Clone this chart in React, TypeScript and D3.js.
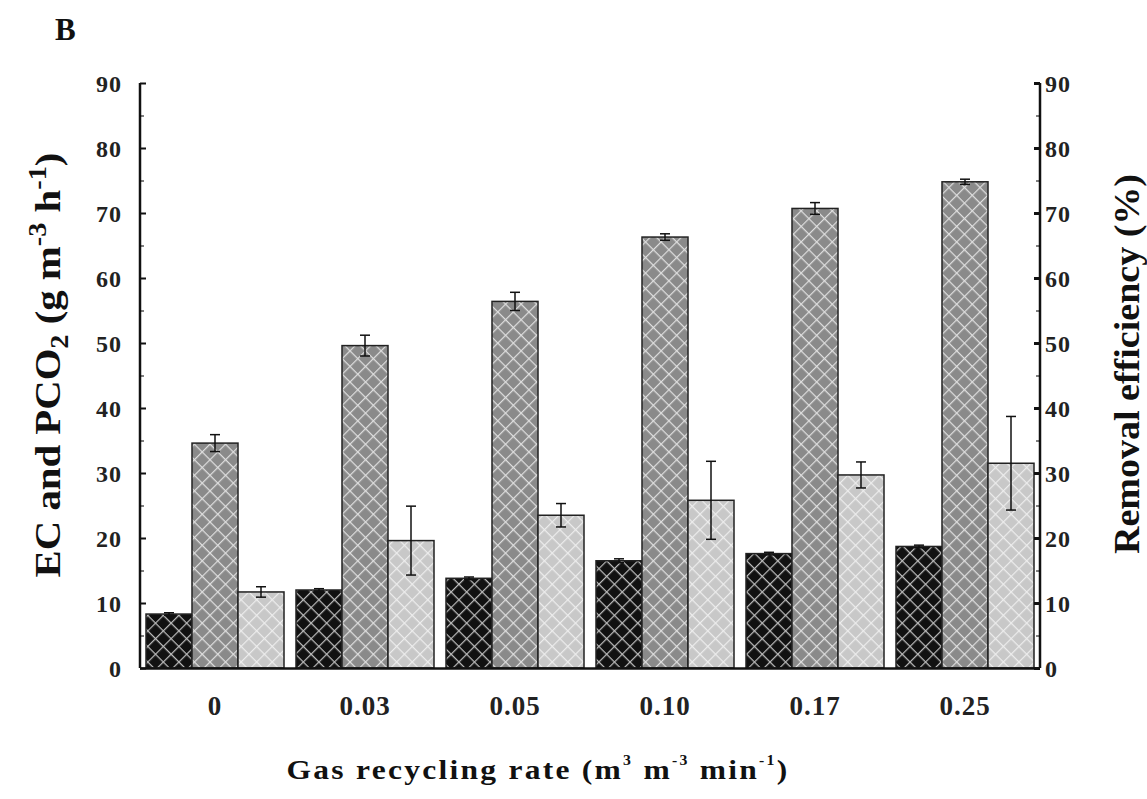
import * as d3 from "d3";
import { useEffect, useRef } from "react";

// gas recycling rates (x categories)
const categories = ["0", "0.03", "0.05", "0.10", "0.17", "0.25"];
// elimination capacity, g m-3 h-1
const ecValues = [8.3, 12.0, 13.8, 16.5, 17.6, 18.7];
const ecErrors = [0.2, 0.2, 0.2, 0.3, 0.2, 0.2];
// CO2 production, g m-3 h-1
const pco2Values = [34.6, 49.6, 56.4, 66.3, 70.7, 74.8];
const pco2Errors = [1.3, 1.6, 1.4, 0.5, 0.9, 0.4];
// removal efficiency, %
const reValues = [11.7, 19.6, 23.5, 25.8, 29.7, 31.5];
const reErrors = [0.8, 5.3, 1.8, 6.0, 2.0, 7.2];

const majorTicks = [0, 10, 20, 30, 40, 50, 60, 70, 80, 90];
const minorTicks = [5, 15, 25, 35, 45, 55, 65, 75, 85];

const W = 1147;
const H = 799;
const FONT = "'Liberation Serif', 'Times New Roman', serif";

// stretch a text group along its own direction so it spans `len` px
const fitText = (g: any, tx: number, ty: number, rot: number, len: number) => {
  const w = g.node().getBBox().width;
  g.attr("transform", `translate(${tx},${ty}) rotate(${rot}) scale(${len / w},1)`);
};

const App = () => {
  const svgRef = useRef<SVGSVGElement>(null);

  useEffect(() => {
    const svg = d3.select(svgRef.current);
    svg.selectAll("*").remove();

    const left = 140;
    const right = 1040;
    const top = 83;
    const bottom = 668;

    // hatch patterns: light crosshatch over a fill
    const defs = svg.append("defs");
    const patterns = [
      { id: "hatchDark", bg: "#111", line: "#d0d0d0", op: 0.9 },
      { id: "hatchMid", bg: "#8a8a8a", line: "#eeeeee", op: 0.85 },
      { id: "hatchLight", bg: "#c8c8c8", line: "#f4f4f4", op: 0.85 },
    ];
    patterns.forEach((p) => {
      const pat = defs
        .append("pattern")
        .attr("id", p.id)
        .attr("patternUnits", "userSpaceOnUse")
        .attr("width", 11)
        .attr("height", 11)
        .attr("patternTransform", "rotate(45)");
      pat.append("rect").attr("width", 11).attr("height", 11).attr("fill", p.bg);
      pat
        .append("path")
        .attr("d", "M0,0.5 H11 M0.5,0 V11")
        .attr("stroke", p.line)
        .attr("stroke-opacity", p.op)
        .attr("stroke-width", 1.4);
    });

    const series = [
      { key: "ec", values: ecValues, errors: ecErrors, fill: "url(#hatchDark)" },
      { key: "pco2", values: pco2Values, errors: pco2Errors, fill: "url(#hatchMid)" },
      { key: "re", values: reValues, errors: reErrors, fill: "url(#hatchLight)" },
    ];

    const x = d3
      .scaleBand()
      .domain(categories)
      .range([left, right])
      .paddingInner(0.08)
      .paddingOuter(0.04);

    const x1 = d3
      .scaleBand()
      .domain(series.map((s) => s.key))
      .range([0, x.bandwidth()]);

    const y = d3.scaleLinear().domain([0, 90]).range([bottom, top]);

    // bars + error bars
    series.forEach((s) => {
      svg
        .append("g")
        .selectAll("rect")
        .data(categories)
        .enter()
        .append("rect")
        .attr("x", (c) => (x(c) as number) + (x1(s.key) as number))
        .attr("y", (c, i) => y(s.values[i]))
        .attr("width", x1.bandwidth())
        .attr("height", (c, i) => bottom - y(s.values[i]))
        .attr("fill", s.fill)
        .attr("stroke", "#222")
        .attr("stroke-width", 1.5);

      const eb = svg
        .append("g")
        .selectAll("g")
        .data(categories)
        .enter()
        .append("g")
        .attr("stroke", "#111")
        .attr("stroke-width", 1.5);
      const cx = (c: string) => (x(c) as number) + (x1(s.key) as number) + x1.bandwidth() / 2;
      eb.append("line")
        .attr("x1", cx)
        .attr("x2", cx)
        .attr("y1", (c, i) => y(s.values[i] + s.errors[i]))
        .attr("y2", (c, i) => y(s.values[i] - s.errors[i]));
      [1, -1].forEach((sign) => {
        eb.append("line")
          .attr("x1", (c) => cx(c) - 5)
          .attr("x2", (c) => cx(c) + 5)
          .attr("y1", (c, i) => y(s.values[i] + sign * s.errors[i]))
          .attr("y2", (c, i) => y(s.values[i] + sign * s.errors[i]));
      });
    });

    // left axis
    const gl = svg
      .append("g")
      .attr("transform", `translate(${left},0)`)
      .call(d3.axisLeft(y).tickValues(majorTicks).tickSize(-6).tickPadding(18).tickFormat(d3.format("d")));
    svg
      .append("g")
      .attr("transform", `translate(${left},0)`)
      .call(d3.axisLeft(y).tickValues(minorTicks).tickSize(-4).tickFormat(() => ""))
      .select(".domain")
      .remove();

    // right axis
    const gr = svg
      .append("g")
      .attr("transform", `translate(${right},0)`)
      .call(d3.axisRight(y).tickValues(majorTicks).tickSize(-6).tickPadding(5).tickFormat(d3.format("d")));
    svg
      .append("g")
      .attr("transform", `translate(${right},0)`)
      .call(d3.axisRight(y).tickValues(minorTicks).tickSize(-4).tickFormat(() => ""))
      .select(".domain")
      .remove();

    // bottom axis
    const gb = svg
      .append("g")
      .attr("transform", `translate(0,${bottom})`)
      .call(d3.axisBottom(x).tickSize(0).tickPadding(28));

    [gl, gr, gb].forEach((g) => {
      g.selectAll("path.domain").attr("stroke", "#111").attr("stroke-width", 2.5);
      g.selectAll(".tick line").attr("stroke", "#111").attr("stroke-width", 2);
      g.selectAll("text")
        .attr("font-family", FONT)
        .attr("font-weight", "bold")
        .attr("font-size", 24)
        .attr("letter-spacing", 1)
        .attr("fill", "#222");
    });
    gb.selectAll("text").attr("font-size", 27);
    gl.selectAll("text").attr("dy", "0.35em");
    gr.selectAll("text").attr("dy", "0.35em");
    gr.selectAll(".tick line").attr("stroke-width", 3);
    gb.select("path.domain").attr("d", `M${left},0.5H${right}`);
    gl.select("path.domain").attr("d", `M0,${top}V${bottom}`);
    gr.select("path.domain").attr("d", `M0,${top}V${bottom}`);

    // panel label
    svg
      .append("text")
      .attr("x", 55)
      .attr("y", 40)
      .attr("font-family", FONT)
      .attr("font-weight", "bold")
      .attr("font-size", 31)
      .attr("fill", "#111")
      .text("B");

    // left title
    const lg = svg.append("g");
    const lt = lg
      .append("text")
      .attr("text-anchor", "middle")
      .attr("font-family", FONT)
      .attr("font-weight", "bold")
      .attr("font-size", 36)
      .attr("fill", "#111");
    lt.append("tspan").text("EC and PCO");
    lt.append("tspan").attr("font-size", 25).attr("dy", 8).text("2");
    lt.append("tspan").attr("dy", -8).text(" (g m");
    lt.append("tspan").attr("font-size", 25).attr("dy", -14).text("-3");
    lt.append("tspan").attr("dy", 14).text(" h");
    lt.append("tspan").attr("font-size", 25).attr("dy", -14).text("-1");
    lt.append("tspan").attr("dy", 14).text(")");
    fitText(lg, 60, 365, -90, 425);

    // right title
    const rg = svg.append("g");
    rg.append("text")
      .attr("text-anchor", "middle")
      .attr("font-family", FONT)
      .attr("font-weight", "bold")
      .attr("font-size", 36)
      .attr("fill", "#111")
      .text("Removal efficiency (%)");
    fitText(rg, 1139, 364, -90, 380);

    // x title
    const xg = svg.append("g");
    const xt = xg
      .append("text")
      .attr("text-anchor", "middle")
      .attr("font-family", FONT)
      .attr("font-weight", "bold")
      .attr("font-size", 28)
      .attr("letter-spacing", 2)
      .attr("fill", "#111");
    xt.append("tspan").text("Gas recycling rate (m");
    xt.append("tspan").attr("font-size", 14).attr("dy", -14).text("3");
    xt.append("tspan").attr("dy", 14).text(" m");
    xt.append("tspan").attr("font-size", 14).attr("dy", -14).text("-3");
    xt.append("tspan").attr("dy", 14).text(" min");
    xt.append("tspan").attr("font-size", 14).attr("dy", -14).text("-1");
    xt.append("tspan").attr("dy", 14).text(")");
    fitText(xg, 538, 779, 0, 503);
  }, []);

  return (
    <svg
      ref={svgRef}
      width={W}
      height={H}
      style={{ position: "absolute", left: 0, top: 0, background: "white" }}
    />
  );
};

export default App;
